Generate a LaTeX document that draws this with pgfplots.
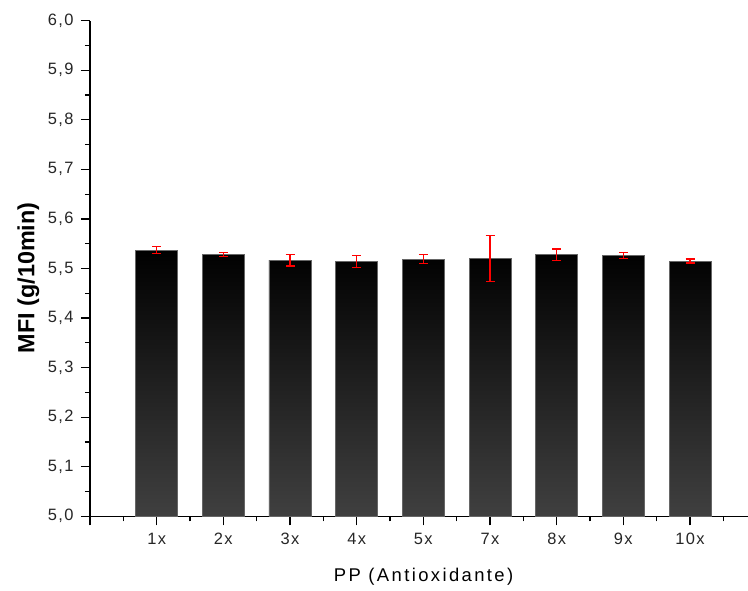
\documentclass[border=0pt]{standalone}
\usepackage{fontspec}
\setmainfont{Liberation Sans}
\newfontfamily\tickfont[LetterSpace=8]{Liberation Sans}
\newfontfamily\labfont[LetterSpace=13]{Liberation Sans}
\usepackage{pgfplots}
\usepackage{pgfplotstable}
\pgfplotsset{compat=1.18}
\pgfplotstableread{
x y e
1 5.537 0.007
2 5.529 0.004
3 5.517 0.012
4 5.514 0.012
5 5.519 0.009
6 5.520 0.047
7 5.528 0.0115
8 5.526 0.0055
9 5.515 0.004
}\mfidata
\begin{document}
\begin{tikzpicture}
\begin{axis}[
  scale only axis, width=658bp, height=495.6bp,
  xmin=0, xmax=9.87, ymin=5, ymax=6,
  axis lines*=left,
  axis line style={line width=1.2bp, black},
  tick align=outside,
  major tick length=9bp, minor tick length=5bp,
  every tick/.style={line width=1.2bp, black},
  xtick={0,1,2,3,4,5,6,7,8,9},
  xticklabels={,1x,2x,3x,4x,5x,7x,8x,9x,10x},
  minor xtick={0.5,1.5,2.5,3.5,4.5,5.5,6.5,7.5,8.5,9.5},
  ytick={5.0,5.1,5.2,5.3,5.4,5.5,5.6,5.7,5.8,5.9,6.0},
  minor ytick={5.05,5.15,5.25,5.35,5.45,5.55,5.65,5.75,5.85,5.95},
  /pgf/number format/assume math mode=true,
  yticklabel style={xshift=-4bp, /pgf/number format/fixed, /pgf/number format/fixed zerofill, /pgf/number format/precision=1, /pgf/number format/use comma},
  xticklabel style={yshift=-4bp},
  tick label style={font=\fontsize{16.5}{19}\selectfont\tickfont, text=black!85},
  ylabel={MFI (g/10min)},
  ylabel style={font=\fontsize{23.5}{27}\selectfont\bfseries, at={(axis description cs:-0.0847,0.481)}, anchor=base, rotate=0},
  xlabel={PP (Antioxidante)},
  xlabel style={font=\fontsize{18.5}{22}\selectfont\labfont, at={(axis description cs:0.507,0)}, anchor=base, yshift=-65.4bp},
  clip=false,
]
\addplot[ybar, bar width=0.63, draw=black!60, line width=0.8bp,
  top color=black, bottom color=black!75]
  table[x=x, y=y]{\mfidata};
\addplot[draw=none, mark=none, forget plot,
  error bars/.cd, y dir=both, y explicit,
  error bar style={draw=red, line width=1.2bp},
  error mark options={rotate=90, draw=red, mark size=4.5bp, line width=1.2bp}]
  table[x=x, y=y, y error=e]{\mfidata};
\coordinate (sw) at (rel axis cs:0,0);
\coordinate (ne) at (rel axis cs:1,1);
\end{axis}
\pgfresetboundingbox
\path[use as bounding box] ([shift={(-90bp,-74.7bp)}]sw) rectangle ([shift={(0bp,20.7bp)}]ne);
\end{tikzpicture}
\end{document}
